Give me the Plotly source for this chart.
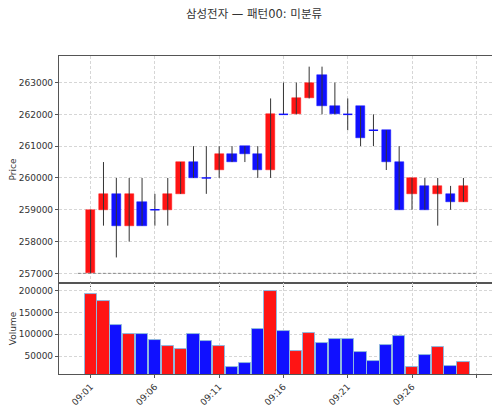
import plotly.graph_objects as go
from plotly.subplots import make_subplots

times = ["09:%02d" % m for m in range(1, 31)]
opens = [257000, 259000, 259500, 258500, 259250, 259000, 259000, 259500, 260500, 260000,
         260250, 260750, 261000, 260750, 260250, 262000, 262000, 262500, 263250, 262250,
         262000, 262250, 261500, 261500, 260500, 259500, 259750, 259500, 259500, 259250]
highs = [259000, 260500, 260000, 260000, 260000, 259500, 260000, 260500, 261000, 261000,
         261000, 261000, 261000, 261000, 262500, 263000, 263000, 263500, 263500, 263000,
         262500, 262250, 262000, 261500, 261000, 260000, 260000, 260000, 259750, 260000]
lows = [257000, 258500, 257500, 258000, 258500, 258500, 258500, 259500, 260000, 259500,
        260000, 260500, 260500, 260000, 260000, 262000, 262000, 262500, 262000, 262000,
        261500, 261000, 261000, 260250, 259000, 259000, 259000, 258500, 259000, 259250]
closes = [259000, 259500, 258500, 259500, 258500, 259000, 259500, 260500, 260000, 260000,
          260750, 260500, 260750, 260250, 262000, 262000, 262500, 263000, 262250, 262000,
          262000, 261250, 261500, 260500, 259000, 260000, 259000, 259750, 259250, 259750]
volumes = [193000, 175500, 121000, 100500, 100000, 87000, 74000, 66000, 100000, 83500,
           73000, 24000, 34500, 111000, 198500, 108000, 62500, 102500, 80000, 88500,
           88500, 58000, 38000, 74500, 97000, 24000, 52000, 71000, 27500, 36500]
support = 257000

RED = "#ff1414"
BLUE = "#1010ff"

x = list(range(len(times)))
up = [c > o for o, c in zip(opens, closes)]

fig = make_subplots(rows=2, cols=1, shared_xaxes=True, vertical_spacing=0,
                    row_heights=[0.714, 0.286])

# wicks
wx, wy = [], []
for i in x:
    wx += [i, i, None]
    wy += [lows[i], highs[i], None]
fig.add_trace(go.Scatter(x=wx, y=wy, mode="lines", line=dict(color="#333333", width=1),
                         hoverinfo="skip"), row=1, col=1)

# bodies
body_x = [i for i in x if opens[i] != closes[i]]
fig.add_trace(go.Bar(
    x=body_x,
    base=[min(opens[i], closes[i]) for i in body_x],
    y=[abs(closes[i] - opens[i]) for i in body_x],
    width=0.72,
    marker=dict(color=[RED if up[i] else BLUE for i in body_x],
                line=dict(color=[RED if up[i] else BLUE for i in body_x], width=0.5)),
), row=1, col=1)

# doji
dx, dy = [], []
for i in x:
    if opens[i] == closes[i]:
        dx += [i - 0.36, i + 0.36, None]
        dy += [opens[i], opens[i], None]
fig.add_trace(go.Scatter(x=dx, y=dy, mode="lines", line=dict(color=BLUE, width=1.5),
                         hoverinfo="skip"), row=1, col=1)

fig.add_trace(go.Scatter(x=[-1, len(times)], y=[support, support], mode="lines",
                         line=dict(color="#888888", width=1, dash="3px,2px")), row=1, col=1)

fig.add_trace(go.Bar(
    x=x, y=volumes, width=0.95,
    marker=dict(color=[RED if u else BLUE for u in up],
                line=dict(color="#8fb8de", width=1)),
), row=2, col=1)

tickvals = list(range(0, len(times) + 1, 5))
ticktext = [times[i] if i < len(times) else "" for i in tickvals]

axis_style = dict(showline=True, mirror=True, linecolor="#555555", linewidth=1.2,
                  showgrid=True, gridcolor="#d6d6d6", griddash="3px,2px", gridwidth=1,
                  ticks="outside", ticklen=3, tickcolor="#555555", zeroline=False,
                  automargin=False, tickfont=dict(size=9, color="#333333"))

fig.update_xaxes(**axis_style, range=[-2.46, 31.3], tickvals=tickvals, ticktext=ticktext)
fig.update_xaxes(showticklabels=False, row=1, col=1)
fig.update_xaxes(tickangle=-45, row=2, col=1)
fig.update_yaxes(**axis_style)
fig.update_yaxes(range=[256695, 263835], dtick=1000, tickformat="d",
                 title=dict(text="Price", font=dict(size=9), standoff=6), row=1, col=1)
fig.update_yaxes(range=[8700, 217700], tickvals=[50000, 100000, 150000, 200000],
                 tickformat="d", title=dict(text="Volume", font=dict(size=9), standoff=6),
                 row=2, col=1)

# the page body adds 8px around the plot div, so the figure is sized to fit
fig.update_layout(
    width=492, height=403,
    margin=dict(l=51, r=7, t=48, b=37),
    barmode="overlay", bargap=0,
    showlegend=False,
    plot_bgcolor="white", paper_bgcolor="white",
    font=dict(family="DejaVu Sans, Noto Sans CJK KR", color="#333333"),
    title=dict(text="삼성전자 — 패턴00: 미분류", x=0.5, xanchor="center",
               y=0.984, yanchor="middle", font=dict(size=11.5, color="#333333")),
)

fig.write_html("out.html")
